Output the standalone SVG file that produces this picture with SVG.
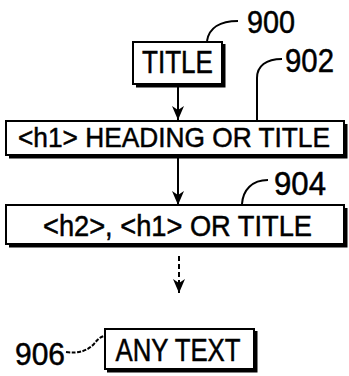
<svg xmlns="http://www.w3.org/2000/svg" width="349" height="376" viewBox="0 0 349 376">
<style>
.box{fill:#fff;stroke:#000;stroke-width:2}
.shadow{fill:none;stroke:#000;stroke-width:3}
.t{font-family:"Liberation Sans",Arial,sans-serif;fill:#000;stroke:#000;stroke-width:0.5}
.line{fill:none;stroke:#000;stroke-width:2}
.lead{fill:none;stroke:#000;stroke-width:2}
</style>
<defs>
<marker id="ah" viewBox="0 0 14 12" refX="14" refY="6" markerWidth="14" markerHeight="12" markerUnits="userSpaceOnUse" orient="auto">
<path d="M0,0 L14,6 L0,12 L4,6 Z" fill="#000"/>
</marker>
</defs>
<rect width="349" height="376" fill="#fff"/>
<g id="connectors">
<line class="line" x1="178" y1="86" x2="178" y2="120" marker-end="url(#ah)"/>
<line class="line" x1="178" y1="158" x2="178" y2="205" marker-end="url(#ah)"/>
<line class="line" x1="179" y1="256" x2="179" y2="293" stroke-width="2.5" stroke-dasharray="5,3" marker-end="url(#ah)"/>
</g>
<g id="node-900">
<polyline class="shadow" points="224,44 224,86 136,86"/>
<rect class="box" x="133" y="42" width="89" height="42"/>
<text class="t" x="177.5" y="73" font-size="32" text-anchor="middle" textLength="71" lengthAdjust="spacingAndGlyphs">TITLE</text>
<path class="lead" d="M207,41 C209,28 220,21 238,21"/>
<text class="t" x="247" y="33" font-size="32" textLength="48" lengthAdjust="spacingAndGlyphs">900</text>
</g>
<g id="node-902">
<polyline class="shadow" points="346,124 346,157 9,157"/>
<rect class="box" x="6" y="121" width="338" height="34"/>
<text class="t" x="18" y="147" font-size="28" textLength="312" lengthAdjust="spacingAndGlyphs">&lt;h1&gt; HEADING OR TITLE</text>
<path class="lead" d="M257,120 L257,78 C257,66 266,59 282,59"/>
<text class="t" x="285" y="72" font-size="33" textLength="49" lengthAdjust="spacingAndGlyphs">902</text>
</g>
<g id="node-904">
<polyline class="shadow" points="346,208 346,246 9,246"/>
<rect class="box" x="6" y="205" width="338" height="39"/>
<text class="t" x="43" y="236" font-size="29" textLength="269" lengthAdjust="spacingAndGlyphs">&lt;h2&gt;, &lt;h1&gt; OR TITLE</text>
<path class="lead" d="M242,204 C243,190 252,180 268,180"/>
<text class="t" x="274" y="195" font-size="34" textLength="52" lengthAdjust="spacingAndGlyphs">904</text>
</g>
<g id="node-906">
<polyline class="shadow" points="256,331 256,371 107,371"/>
<rect class="box" x="105" y="329" width="149" height="40"/>
<text class="t" x="178" y="361" font-size="31" text-anchor="middle" textLength="125" lengthAdjust="spacingAndGlyphs">ANY TEXT</text>
<path class="lead" d="M66,352 C80,354 88,350 94,344 C97,340 100,337 104,336" stroke-dasharray="4,1.5"/>
<text class="t" x="15" y="365" font-size="32" textLength="50" lengthAdjust="spacingAndGlyphs">906</text>
</g>
</svg>
